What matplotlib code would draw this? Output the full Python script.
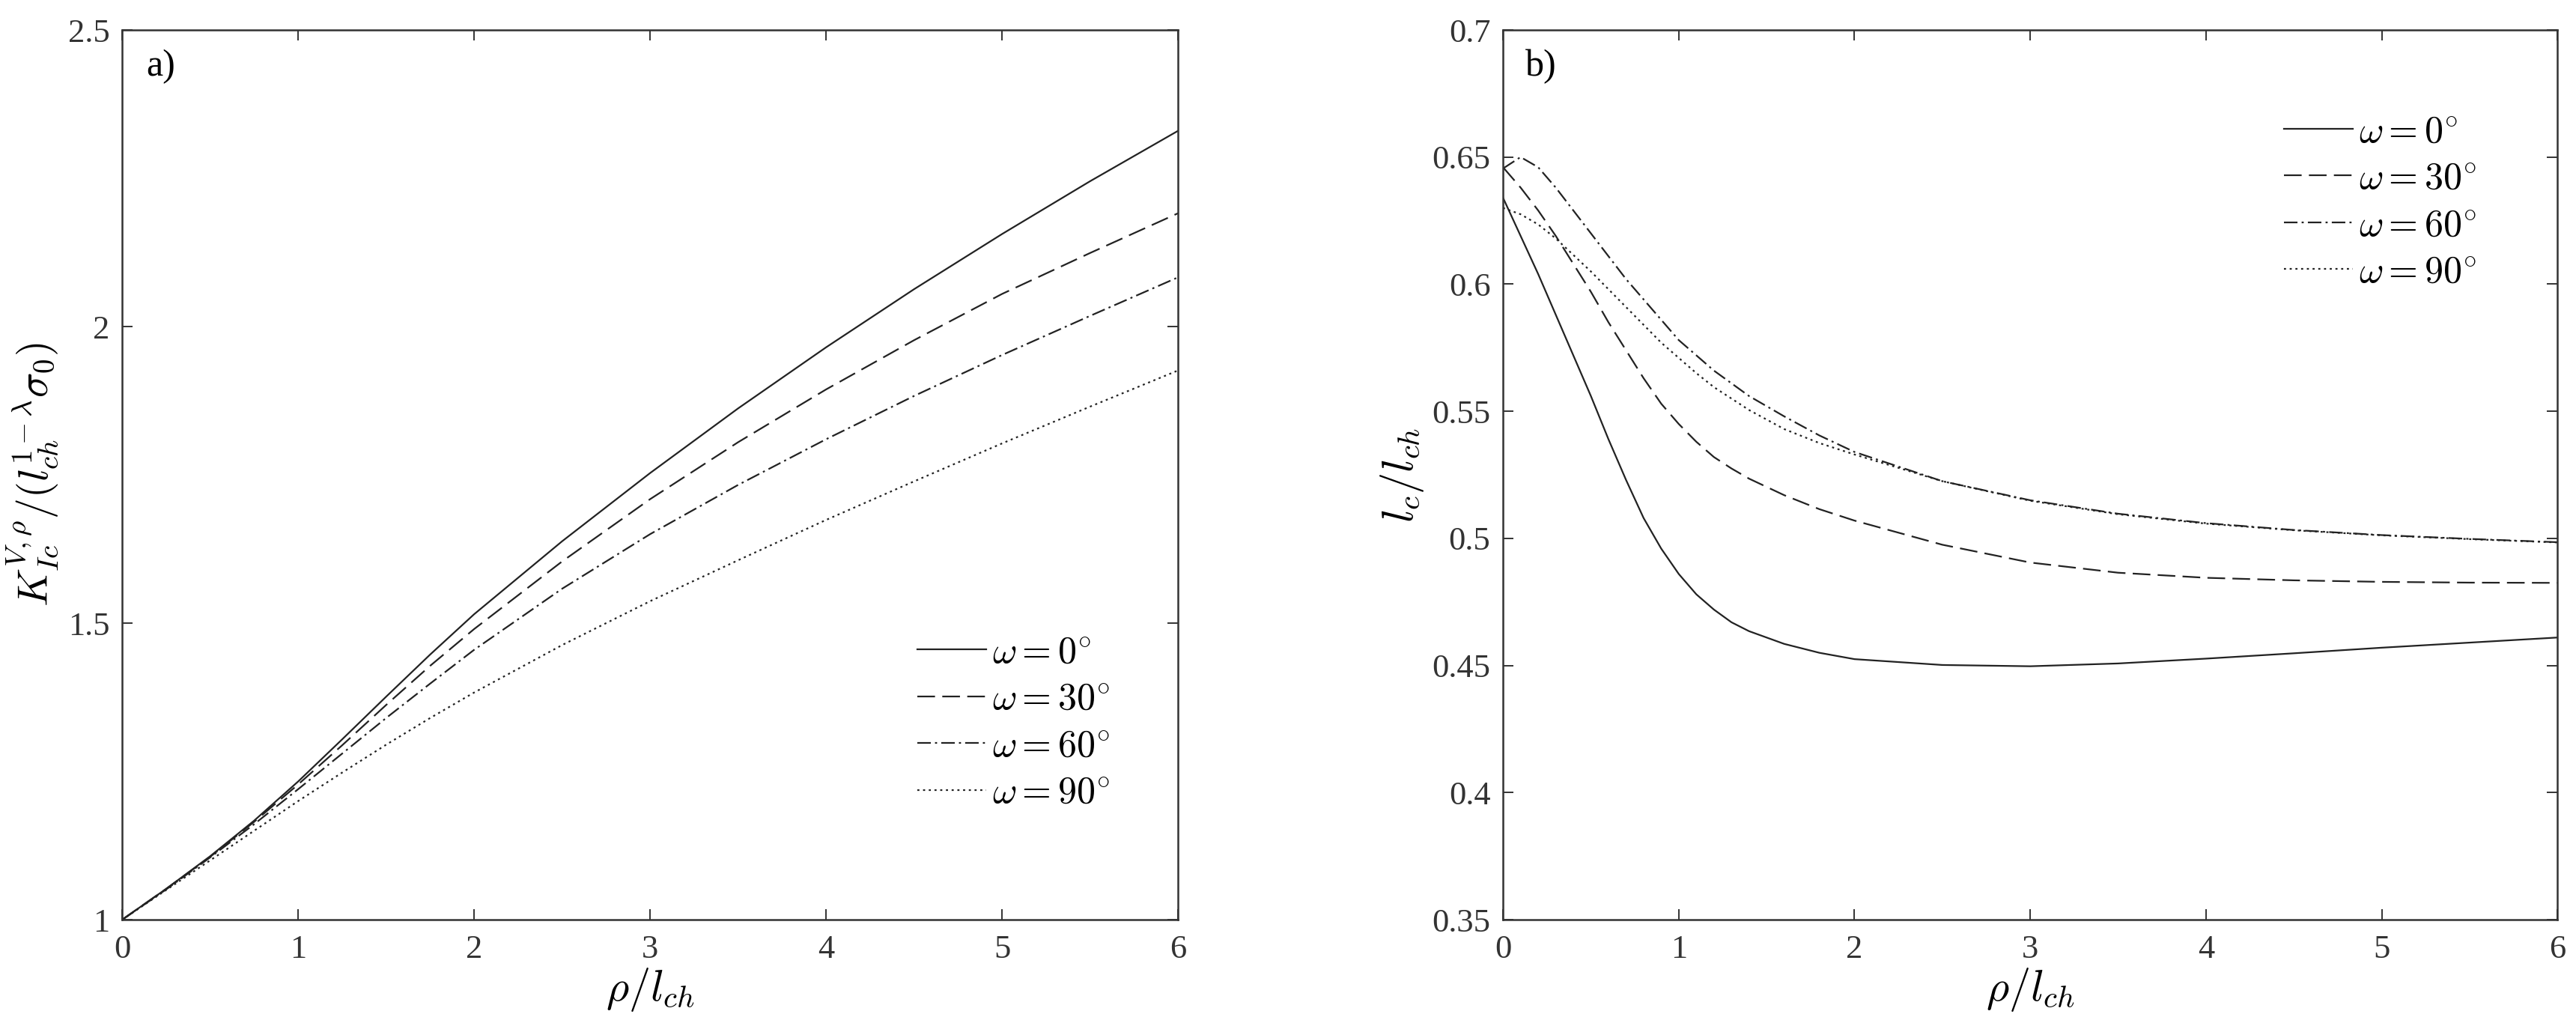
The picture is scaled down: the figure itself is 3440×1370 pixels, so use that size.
import numpy as np
import matplotlib
matplotlib.use("Agg")
import matplotlib.pyplot as plt

plt.rcParams["font.family"] = ["Liberation Serif", "DejaVu Serif"]
plt.rcParams["mathtext.fontset"] = "cm"
plt.rcParams["lines.scale_dashes"] = False

# panel a) K / (l_ch^(1-lambda) sigma_0) against rho / l_ch
x_a = [0, 0.25, 0.5, 0.75, 1, 1.25, 1.5, 1.75, 2, 2.5, 3, 3.5, 4, 4.5, 5, 5.5, 6]
k_w0 = [1.0, 1.052, 1.107, 1.167, 1.233, 1.304, 1.376, 1.447, 1.515, 1.638, 1.753,
        1.862, 1.965, 2.063, 2.156, 2.245, 2.330]
k_w30 = [1.0, 1.052, 1.106, 1.165, 1.228, 1.294, 1.362, 1.428, 1.490, 1.604, 1.709,
         1.805, 1.894, 1.977, 2.055, 2.124, 2.191]
k_w60 = [1.0, 1.051, 1.105, 1.161, 1.220, 1.280, 1.340, 1.398, 1.455, 1.558, 1.650,
         1.733, 1.810, 1.883, 1.952, 2.018, 2.083]
k_w90 = [1.0, 1.050, 1.100, 1.150, 1.200, 1.248, 1.295, 1.340, 1.383, 1.463, 1.537,
         1.606, 1.674, 1.739, 1.803, 1.865, 1.926]

# panel b) l_c / l_ch against rho / l_ch
x_b = [0, 0.1, 0.2, 0.3, 0.4, 0.5, 0.6, 0.7, 0.8, 0.9, 1.0, 1.1, 1.2, 1.3, 1.4, 1.6, 1.8,
       2.0, 2.5, 3, 3.5, 4, 4.5, 5, 5.5, 6]
l_w0 = [0.634, 0.619, 0.604, 0.588, 0.572, 0.556, 0.539, 0.523, 0.508, 0.496, 0.486, 0.478,
        0.472, 0.467, 0.4635, 0.4585, 0.455, 0.4525, 0.4502, 0.4497, 0.4508, 0.4527, 0.4548,
        0.4570, 0.4590, 0.4610]
l_w30 = [0.646, 0.638, 0.629, 0.619, 0.608, 0.597, 0.585, 0.574, 0.563, 0.553, 0.545, 0.538,
         0.532, 0.5275, 0.5235, 0.517, 0.5115, 0.507, 0.4975, 0.4905, 0.4865, 0.4845, 0.4835,
         0.4829, 0.4826, 0.4825]
l_w60 = [0.6455, 0.650, 0.646, 0.638, 0.629, 0.620, 0.611, 0.602, 0.594, 0.586, 0.578, 0.572,
         0.566, 0.561, 0.556, 0.548, 0.5405, 0.534, 0.5225, 0.515, 0.5097, 0.506, 0.5033,
         0.5013, 0.4998, 0.4985]
l_w90 = [0.630, 0.6275, 0.6235, 0.618, 0.6115, 0.605, 0.598, 0.591, 0.584, 0.577, 0.571,
         0.565, 0.5595, 0.555, 0.5505, 0.543, 0.5375, 0.533, 0.5225, 0.5148, 0.5095, 0.5058,
         0.5032, 0.5012, 0.4997, 0.4984]

labels = [r"$\omega = 0^{\circ}$", r"$\omega = 30^{\circ}$",
          r"$\omega = 60^{\circ}$", r"$\omega = 90^{\circ}$"]
styles = ["-", (0, (17, 7)), (0, (13, 4, 2, 4)), (0, (2, 3.5))]

fig = plt.figure(figsize=(34.41, 13.70), dpi=100)
ax1 = fig.add_axes([0.0474, 0.1036, 0.4098, 0.8672])
ax2 = fig.add_axes([0.5833, 0.1036, 0.4092, 0.8672])

for y, ls, lab in zip([k_w0, k_w30, k_w60, k_w90], styles, labels):
    ax1.plot(x_a, y, linestyle=ls, color="#222222", lw=1.6, label=lab)
for y, ls, lab in zip([l_w0, l_w30, l_w60, l_w90], styles, labels):
    ax2.plot(x_b, y, linestyle=ls, color="#222222", lw=1.6, label=lab)

ax1.set_xlim(0, 6)
ax1.set_ylim(1, 2.5)
ax1.set_yticks([1, 1.5, 2, 2.5])
ax1.set_yticklabels(["1", "1.5", "2", "2.5"])
ax2.set_xlim(0, 6)
ax2.set_ylim(0.35, 0.7)
ax2.set_yticks([0.35, 0.4, 0.45, 0.5, 0.55, 0.6, 0.65, 0.7])
ax2.set_yticklabels(["0.35", "0.4", "0.45", "0.5", "0.55", "0.6", "0.65", "0.7"])

for ax in (ax1, ax2):
    ax.set_xticks(range(7))
    ax.tick_params(direction="in", top=True, right=True, length=10, width=1.4,
                   labelsize=32, color="#333333", labelcolor="#333333")
    ax.tick_params(axis="x", pad=14)
    ax.tick_params(axis="y", pad=12)
    for s in ax.spines.values():
        s.set_linewidth(1.8)
        s.set_color("#333333")
    ax.set_xlabel(r"$\rho/l_{ch}$", fontsize=42, labelpad=2)

ax1.set_ylabel(r"$K_{Ic}^{V,\rho}/(l_{ch}^{1-\lambda}\sigma_0)$", fontsize=40, labelpad=8)
ax2.set_ylabel(r"$l_c/l_{ch}$", fontsize=42, labelpad=6)

ax1.text(0.023, 0.978, "a)", transform=ax1.transAxes, fontsize=36, va="top")
ax2.text(0.021, 0.978, "b)", transform=ax2.transAxes, fontsize=36, va="top")

leg_kw = dict(frameon=False, fontsize=36, handlelength=1.84, handletextpad=0.16,
              labelspacing=0.32, borderpad=0, borderaxespad=0, loc="center left")
ax1.legend(bbox_to_anchor=(0.753, 0.2205), **leg_kw)
ax2.legend(bbox_to_anchor=(0.7408, 0.8056), **leg_kw)

fig.savefig("out.png", dpi=100)
